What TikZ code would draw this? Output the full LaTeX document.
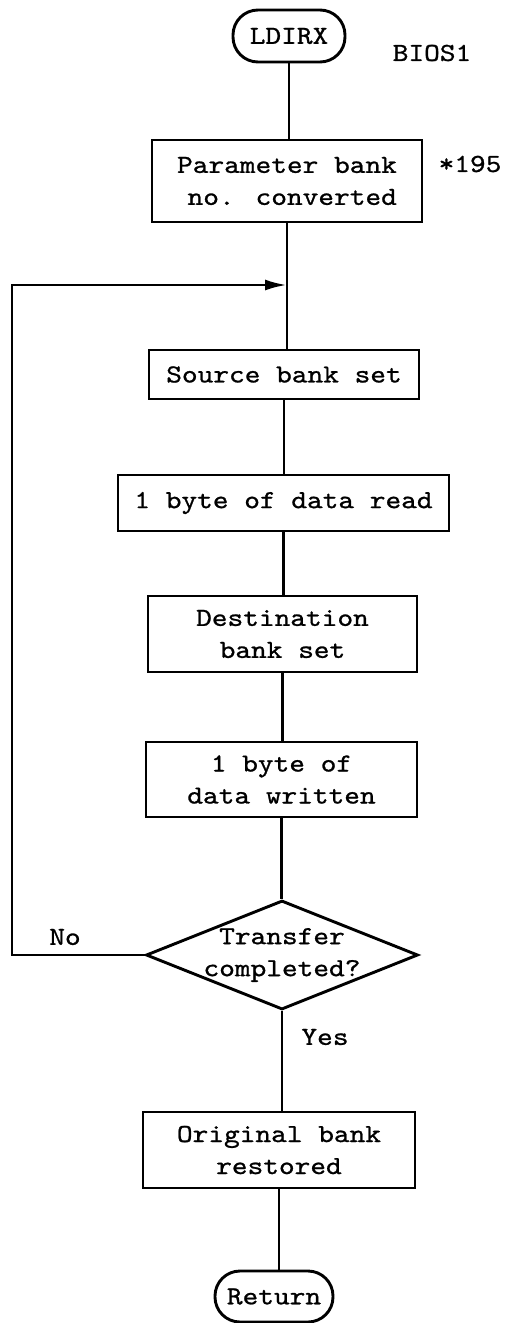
\documentclass[tikz,border=0pt]{standalone}
\usepackage{fontspec}
\newfontfamily\typer{lmmono10-regular.otf}[FakeStretch=1.15,FakeBold=0.9]
\usetikzlibrary{shapes.geometric,arrows.meta}
\begin{document}
\begin{tikzpicture}[x=1pt,y=-1pt,line width=2.9pt,
  every node/.style={font=\typer\fontsize{26}{32}\selectfont},
  proc/.style={draw,rectangle,align=center,inner sep=0pt},
  term/.style={draw,rectangle,rounded corners=25pt,inner sep=0pt},
  decision/.style={draw,diamond,inner sep=0pt},
  loopback/.style={-{Latex[length=22pt,width=11pt]}}]
\useasboundingbox (0,0) rectangle (508,1323);

% flow steps
\node[term,minimum width=112pt,minimum height=52pt] (start) at (289,36) {LDIRX};
\node[proc,align=right,minimum width=270pt,minimum height=82pt] (param) at (287,181) {Parameter bank\\no. converted};
\node[proc,minimum width=270pt,minimum height=49pt] (src) at (284,374.5) {Source bank set};
\node[proc,minimum width=331pt,minimum height=56pt] (read) at (283.5,503) {1 byte of data read};
\node[proc,minimum width=269pt,minimum height=76pt] (dst) at (282.5,634) {Destination\\bank set};
\node[proc,minimum width=271pt,minimum height=75pt] (wr) at (281.5,779.5) {1 byte of\\data written};
\node[decision,minimum width=272pt,minimum height=109pt,
      label={[align=center]center:Transfer\\completed?}] (dec) at (282,955) {};
\node[proc,minimum width=272pt,minimum height=76pt] (orig) at (279,1150) {Original bank\\restored};
\node[term,minimum width=118pt,minimum height=51pt] (ret) at (274,1296.5) {Return};

% side notes and branch labels
\node (bios) at (432,53) {BIOS1};
\node (note) at (470,164) {*195};
\node (no) at (65,937) {No};
\node (yes) at (325,1037) {Yes};

% main flow
\draw (start.south) -- (start.south |- param.north);
\draw (param.south) -- (param.south |- src.north);
\draw (src.south) -- (src.south |- read.north);
\draw (read.south) -- (read.south |- dst.north);
\draw (dst.south) -- (dst.south |- wr.north);
\draw (wr.south) -- (wr.south |- dec.north);
\draw (dec.south) -- (dec.south |- orig.north);
\draw (orig.south) -- (orig.south |- ret.north);

% loop back on "No"
\coordinate (lc) at (12,285);
\coordinate (join) at (param.south |- lc);
\draw[loopback] (dec.west) -| (lc) -- (join);
\end{tikzpicture}
\end{document}
